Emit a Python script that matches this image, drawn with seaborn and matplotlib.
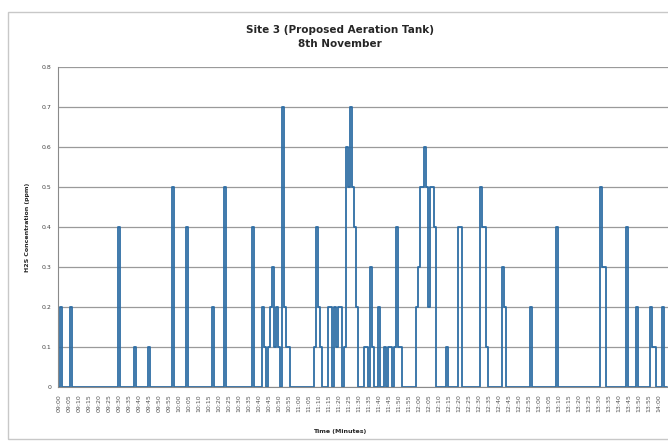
import numpy as np
import pandas as pd
import seaborn as sns
from matplotlib import pyplot as plt
from matplotlib.patches import Rectangle

# readings every minute; only the non-zero ones are listed, all others read 0
n_minutes = 305
start_time = pd.Timestamp('2010-11-08 09:00')

reading_minute = [1, 6, 30, 38, 45, 57, 64, 77, 83, 97,
                  102, 103, 105, 106, 107, 108, 109, 110, 112, 113, 114, 115,
                  128, 129, 130, 131, 135, 136, 138, 139, 140, 141, 143,
                  144, 145, 146, 147, 148, 149, 153, 154, 156, 157, 160,
                  163, 165, 166, 168, 169, 170, 171, 179, 180,
                  181, 182, 183, 184, 185, 186, 187, 188, 194, 200, 201,
                  211, 212, 213, 214, 222, 223, 236, 249, 271, 272, 273,
                  284, 289, 296, 297, 298, 302]
reading_ppm = [0.2, 0.2, 0.4, 0.1, 0.1, 0.5, 0.4, 0.2, 0.5, 0.4,
               0.2, 0.1, 0.1, 0.2, 0.3, 0.1, 0.2, 0.1, 0.7, 0.2, 0.1, 0.1,
               0.1, 0.4, 0.2, 0.1, 0.2, 0.2, 0.2, 0.1, 0.2, 0.2, 0.1,
               0.6, 0.5, 0.7, 0.5, 0.4, 0.2, 0.1, 0.1, 0.3, 0.1, 0.2,
               0.1, 0.1, 0.1, 0.1, 0.4, 0.1, 0.1, 0.2, 0.3,
               0.5, 0.5, 0.6, 0.5, 0.2, 0.5, 0.5, 0.4, 0.1, 0.4, 0.4,
               0.5, 0.4, 0.4, 0.1, 0.3, 0.2, 0.2, 0.4, 0.5, 0.3, 0.3,
               0.4, 0.2, 0.2, 0.1, 0.1, 0.2]

y_ticks = [0, 0.1, 0.2, 0.3, 0.4, 0.5, 0.6, 0.7, 0.8]
y_tick_labels = ['0', '0.1', '0.2', '0.3', '0.4', '0.5', '0.6', '0.7', '0.8']

ppm = np.zeros(n_minutes)
ppm[reading_minute] = reading_ppm
df = pd.DataFrame({'minute': np.arange(n_minutes), 'ppm': ppm})
times = [(start_time + pd.Timedelta(minutes=int(m))).strftime('%H:%M') for m in df['minute']]

sns.set_style('white')
plt.rcParams['font.family'] = ['DejaVu Sans']

fig = plt.figure(figsize=(6.68, 4.43), dpi=100)
ax = fig.add_axes([58 / 668, 1 - 387 / 443, 1 - 58 / 668, (387 - 67) / 443])

sns.lineplot(data=df, x='minute', y='ppm', ax=ax, color='#2f6ea5', linewidth=1.3,
             drawstyle='steps-mid')

ax.set_xlim(-0.5, n_minutes - 0.5)
ax.set_ylim(0, 0.8)
ax.set_yticks(y_ticks)
ax.set_yticklabels(y_tick_labels, fontsize=4.5, color='#444444')
tick_pos = list(range(0, n_minutes, 5))
ax.set_xticks(tick_pos)
ax.set_xticklabels([times[i] for i in tick_pos], rotation=90, fontsize=4.5, color='#555555')
ax.tick_params(axis='both', length=3, width=0.6, color='#888888', pad=2)
ax.yaxis.grid(True, color='#9a9a9a', linewidth=0.9)
for side in ['top', 'right']:
    ax.spines[side].set_visible(False)
for side in ['left', 'bottom']:
    ax.spines[side].set_color('#8a8a8a')
    ax.spines[side].set_linewidth(0.8)

ax.set_xlabel('')
ax.set_ylabel('H2S Concentration (ppm)', fontsize=4.5, fontweight='bold', labelpad=8)
fig.text(340 / 668, 1 - 432 / 443, 'Time (Minutes)', fontsize=4.5, fontweight='bold', ha='center', va='center')

fig.text(340 / 668, 1 - 30 / 443, 'Site 3 (Proposed Aeration Tank)', fontsize=7.5,
         fontweight='bold', ha='center', va='center')
fig.text(340 / 668, 1 - 44 / 443, '8th November', fontsize=7.5,
         fontweight='bold', ha='center', va='center')

fig.patches.append(Rectangle((8 / 668, 4 / 443), 1.0, 1 - 16 / 443, transform=fig.transFigure,
                             fill=False, edgecolor='#c8c8c8', linewidth=1.0))

fig.savefig('out.png', dpi=100)
